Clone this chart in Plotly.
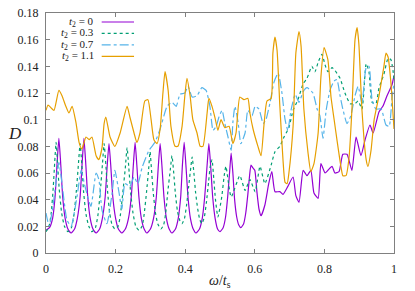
import plotly.graph_objects as go

# ---- data ----
w_t0 = [0.000,0.010,0.019,0.026,0.032,0.037,0.042,0.048,0.055,0.063,0.072,
        0.082,0.090,0.098,0.104,0.109,0.114,0.120,0.127,0.135,0.144,
        0.154,0.162,0.170,0.176,0.181,0.186,0.192,0.200,0.208,0.218,
        0.228,0.237,0.245,0.251,0.256,0.261,0.267,0.274,0.282,0.290,
        0.300,0.309,0.317,0.323,0.328,0.333,0.339,0.346,0.354,0.362,
        0.372,0.380,0.387,0.392,0.397,0.402,0.408,0.415,0.423,0.431,
        0.441,0.449,0.456,0.463,0.468,0.473,0.479,0.486,0.493,0.500,
        0.509,0.516,0.522,0.528,0.532,0.537,0.542,0.548,0.554,0.560,
        0.568,0.574,0.580,0.585,0.589,0.594,0.600,0.606,0.612,0.618,
        0.629,0.640,0.649,0.658,0.672,0.681,0.695,0.710,0.718,0.727,
        0.739,0.750,0.761,0.770,0.782,0.790,0.802,0.810,0.822,0.830,
        0.842,0.853,0.865,0.879,0.891,0.905,0.917,0.931,0.940,0.957,
        0.968,0.980,0.994,1.000]
d_t0 = [0.017,0.019,0.026,0.042,0.068,0.086,0.068,0.042,0.026,0.018,0.015,
        0.018,0.026,0.042,0.068,0.086,0.068,0.042,0.026,0.018,0.015,
        0.018,0.026,0.042,0.066,0.082,0.066,0.042,0.026,0.018,0.015,
        0.018,0.026,0.042,0.066,0.083,0.066,0.042,0.026,0.018,0.015,
        0.018,0.026,0.042,0.066,0.082,0.066,0.042,0.026,0.018,0.015,
        0.018,0.026,0.042,0.066,0.083,0.066,0.042,0.026,0.018,0.015,
        0.018,0.026,0.042,0.066,0.082,0.066,0.042,0.026,0.018,0.016,
        0.019,0.027,0.042,0.062,0.075,0.060,0.040,0.027,0.021,0.019,
        0.022,0.030,0.044,0.058,0.066,0.064,0.062,0.046,0.033,0.028,
        0.036,0.052,0.061,0.046,0.046,0.044,0.050,0.057,0.043,0.038,
        0.062,0.058,0.062,0.045,0.041,0.067,0.060,0.062,0.065,0.060,
        0.061,0.074,0.074,0.062,0.087,0.073,0.085,0.096,0.090,0.106,
        0.110,0.118,0.126,0.133]

w_t03 = [0.000,0.008,0.015,0.021,0.025,0.029,0.033,0.038,0.045,0.053,0.063,
         0.073,0.080,0.087,0.093,0.098,0.103,0.108,0.115,0.123,0.132,
         0.142,0.149,0.156,0.162,0.167,0.172,0.177,0.183,0.190,0.198,
         0.207,0.214,0.221,0.228,0.233,0.238,0.243,0.250,0.258,0.267,
         0.276,0.282,0.289,0.295,0.299,0.303,0.308,0.314,0.321,0.330,
         0.338,0.344,0.350,0.357,0.362,0.367,0.372,0.378,0.385,0.391,
         0.398,0.404,0.410,0.416,0.420,0.425,0.430,0.436,0.442,0.448,
         0.455,0.461,0.467,0.472,0.477,0.482,0.487,0.494,0.505,0.512,
         0.517,0.532,0.557,0.572,0.586,0.601,0.615,0.629,0.647,0.658,
         0.672,0.684,0.698,0.710,0.724,0.739,0.750,0.764,0.773,0.782,
         0.793,0.802,0.810,0.822,0.830,0.845,0.859,0.874,0.888,0.897,
         0.908,0.920,0.928,0.937,0.948,0.957,0.971,0.983,0.991,0.997,1.000]
d_t03 = [0.016,0.019,0.030,0.050,0.068,0.083,0.068,0.048,0.030,0.020,0.016,
         0.019,0.028,0.046,0.066,0.082,0.066,0.046,0.029,0.020,0.016,
         0.019,0.028,0.046,0.066,0.082,0.066,0.046,0.030,0.021,0.018,
         0.020,0.029,0.046,0.064,0.079,0.064,0.046,0.030,0.020,0.017,
         0.020,0.029,0.046,0.063,0.076,0.063,0.046,0.031,0.022,0.018,
         0.021,0.030,0.046,0.062,0.073,0.060,0.044,0.031,0.024,0.022,
         0.026,0.036,0.050,0.064,0.072,0.060,0.045,0.033,0.025,0.022,
         0.027,0.038,0.053,0.065,0.070,0.056,0.040,0.027,0.042,0.058,
         0.065,0.042,0.058,0.047,0.055,0.046,0.065,0.052,0.066,0.076,
         0.080,0.087,0.094,0.107,0.115,0.127,0.131,0.140,0.136,0.143,
         0.149,0.141,0.136,0.139,0.137,0.131,0.120,0.112,0.112,0.114,
         0.108,0.142,0.136,0.113,0.112,0.124,0.134,0.146,0.145,0.137,0.130]

w_t07 = [0.000,0.009,0.020,0.037,0.046,0.060,0.072,0.089,0.101,0.112,0.129,
         0.144,0.152,0.161,0.175,0.190,0.198,0.210,0.218,0.227,0.241,
         0.253,0.264,0.276,0.296,0.313,0.328,0.348,0.362,0.374,0.385,
         0.399,0.408,0.420,0.434,0.448,0.460,0.471,0.480,0.489,0.497,
         0.506,0.514,0.523,0.532,0.537,0.543,0.552,0.560,0.572,0.580,
         0.592,0.601,0.612,0.624,0.632,0.644,0.655,0.667,0.678,0.687,
         0.695,0.704,0.716,0.727,0.739,0.750,0.767,0.779,0.787,0.796,
         0.805,0.816,0.828,0.836,0.845,0.853,0.865,0.876,0.888,0.897,
         0.908,0.920,0.928,0.937,0.948,0.963,0.977,0.986,0.994,1.000]
d_t07 = [0.030,0.020,0.035,0.068,0.052,0.025,0.020,0.042,0.062,0.050,0.035,
         0.060,0.055,0.032,0.022,0.045,0.062,0.045,0.033,0.052,0.050,
         0.057,0.052,0.064,0.077,0.083,0.093,0.110,0.113,0.110,0.119,
         0.120,0.125,0.117,0.118,0.124,0.122,0.110,0.092,0.095,0.102,
         0.107,0.097,0.087,0.077,0.098,0.110,0.098,0.082,0.090,0.107,
         0.103,0.110,0.108,0.097,0.100,0.113,0.128,0.135,0.120,0.100,
         0.092,0.107,0.119,0.113,0.121,0.124,0.120,0.108,0.103,0.086,
         0.107,0.122,0.129,0.130,0.118,0.108,0.097,0.103,0.118,0.125,
         0.112,0.139,0.140,0.115,0.108,0.108,0.096,0.095,0.115,0.128]

w_t11 = [0.000,0.006,0.014,0.023,0.037,0.046,0.057,0.066,0.075,0.086,0.095,
         0.103,0.115,0.124,0.132,0.144,0.152,0.161,0.167,0.172,0.184,
         0.198,0.213,0.233,0.241,0.253,0.261,0.270,0.284,0.293,0.302,
         0.310,0.319,0.328,0.336,0.342,0.351,0.359,0.371,0.379,0.391,
         0.399,0.405,0.414,0.422,0.434,0.443,0.451,0.463,0.468,0.477,
         0.486,0.494,0.503,0.514,0.526,0.537,0.546,0.557,0.569,0.580,
         0.586,0.595,0.609,0.618,0.626,0.635,0.647,0.652,0.658,0.664,
         0.672,0.681,0.687,0.693,0.698,0.710,0.718,0.727,0.733,0.741,
         0.753,0.761,0.770,0.782,0.790,0.799,0.810,0.819,0.828,0.836,
         0.848,0.853,0.862,0.871,0.879,0.888,0.894,0.899,0.908,0.920,
         0.925,0.934,0.943,0.957,0.971,0.977,0.983,0.991,1.000]
d_t11 = [0.107,0.111,0.109,0.107,0.122,0.118,0.110,0.105,0.110,0.098,0.083,
         0.078,0.087,0.085,0.087,0.073,0.070,0.079,0.097,0.102,0.087,
         0.080,0.090,0.110,0.102,0.090,0.083,0.090,0.114,0.115,0.100,
         0.085,0.082,0.093,0.120,0.136,0.122,0.095,0.080,0.080,0.095,
         0.118,0.131,0.118,0.100,0.090,0.080,0.080,0.105,0.116,0.110,
         0.101,0.092,0.100,0.094,0.095,0.082,0.090,0.117,0.115,0.116,
         0.105,0.093,0.080,0.073,0.095,0.114,0.116,0.150,0.162,0.152,
         0.110,0.070,0.053,0.052,0.060,0.095,0.150,0.166,0.155,0.108,
         0.075,0.061,0.067,0.090,0.132,0.154,0.145,0.117,0.100,0.085,
         0.064,0.058,0.058,0.072,0.107,0.160,0.169,0.157,0.107,0.070,
         0.065,0.077,0.100,0.118,0.140,0.150,0.147,0.128,0.093]

series_names = ["<i>t</i><sub>2</sub> = 0", "<i>t</i><sub>2</sub> = 0.3",
                "<i>t</i><sub>2</sub> = 0.7", "<i>t</i><sub>2</sub> = 1.1"]
series_x = [w_t0, w_t03, w_t07, w_t11]
series_y = [d_t0, d_t03, d_t07, d_t11]
colors = ["#9400d3", "#009e73", "#56b4e9", "#e69f00"]
dashes = ["solid", "dot", "dashdot", "solid"]

x_ticks = [0, 0.2, 0.4, 0.6, 0.8, 1]
x_ticktext = ["0", "0.2", "0.4", "0.6", "0.8", "1"]
y_ticks = [0, 0.02, 0.04, 0.06, 0.08, 0.1, 0.12, 0.14, 0.16, 0.18]
y_ticktext = ["0", "0.02", "0.04", "0.06", "0.08", "0.1", "0.12", "0.14", "0.16", "0.18"]

SERIF = "Liberation Serif, DejaVu Serif, serif"

fig = go.Figure()
for name, xs, ys, c, d in zip(series_names, series_x, series_y, colors, dashes):
    fig.add_trace(go.Scatter(x=xs, y=ys, mode="lines", name=name, showlegend=False,
                             line=dict(color=c, width=1.2, dash=d, shape="spline", smoothing=0.5)))

# gnuplot-style key: right-aligned text, sample to the right
rows = [0.9625, 0.915, 0.867, 0.819]
for name, c, d, ry in zip(series_names, colors, dashes, rows):
    fig.add_annotation(x=0.142, y=ry, xref="paper", yref="paper", text=name,
                       showarrow=False, xanchor="right", yanchor="middle", borderpad=0,
                       font=dict(family=SERIF, size=11, color="#222"))
    fig.add_shape(type="line", xref="paper", yref="paper", x0=0.16, x1=0.253, y0=ry, y1=ry,
                  line=dict(color=c, width=1.2, dash=d))

fig.add_annotation(x=-0.09, y=0.5, xref="paper", yref="paper", text="<i>D</i>",
                   showarrow=False, xanchor="center", yanchor="middle", borderpad=0,
                   font=dict(family=SERIF, size=17, color="#222"))
fig.add_annotation(x=0.5, y=-0.12, xref="paper", yref="paper", text="<i>ω</i>/<i>t</i><sub>s</sub>",
                   showarrow=False, xanchor="center", yanchor="middle", borderpad=0,
                   font=dict(family=SERIF, size=14, color="#222"))

axis_common = dict(showgrid=False, zeroline=False, showline=True, mirror="ticks",
                   linecolor="#808080", linewidth=1, ticks="inside", ticklen=4,
                   tickcolor="#808080", tickwidth=1, automargin=False,
                   tickfont=dict(family=SERIF, size=12, color="#222"))
fig.update_xaxes(range=[0, 1], tickvals=x_ticks, ticktext=x_ticktext,
                 ticklabelstandoff=5, **axis_common)
fig.update_yaxes(range=[0, 0.18], tickvals=y_ticks, ticktext=y_ticktext,
                 ticklabelstandoff=4, **axis_common)

fig.update_layout(width=415, height=291, margin=dict(l=46, r=21, t=13, b=38, autoexpand=False),
                  plot_bgcolor="white", paper_bgcolor="white", showlegend=False,
                  template="none")

fig.write_html("out.html", config={"displayModeBar": False, "staticPlot": True},
               post_script="document.body.style.margin='0';document.body.style.overflow='hidden';")
